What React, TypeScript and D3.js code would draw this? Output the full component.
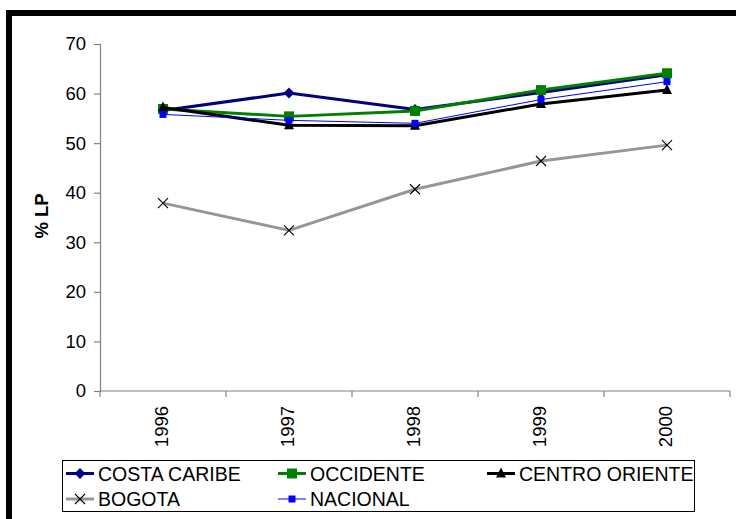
import React, { useEffect, useRef } from 'react';
import * as d3 from 'd3';

const years = ['1996', '1997', '1998', '1999', '2000'];
const costaCaribe = [56.6, 60.1, 56.8, 60.2, 63.8];
const occidente = [56.9, 55.4, 56.5, 60.7, 64.1];
const centroOriente = [57.2, 53.6, 53.5, 57.9, 60.7];
const bogota = [37.9, 32.4, 40.7, 46.4, 49.6];
const nacional = [55.8, 54.6, 54.0, 58.8, 62.4];
const yTicks = [0, 10, 20, 30, 40, 50, 60, 70];

type Series = {
  name: string;
  values: number[];
  color: string;
  width: number;
  marker: 'diamond' | 'square' | 'triangle' | 'cross' | 'smallSquare';
};

const series: Series[] = [
  { name: 'COSTA CARIBE', values: costaCaribe, color: '#000080', width: 3, marker: 'diamond' },
  { name: 'OCCIDENTE', values: occidente, color: '#008000', width: 3, marker: 'square' },
  { name: 'CENTRO ORIENTE', values: centroOriente, color: '#000000', width: 3, marker: 'triangle' },
  { name: 'BOGOTA', values: bogota, color: '#969696', width: 3, marker: 'cross' },
  { name: 'NACIONAL', values: nacional, color: '#0000FF', width: 1, marker: 'smallSquare' },
];

const FONT = 'Arial, "Liberation Sans", sans-serif';

function drawMarker(g: d3.Selection<SVGGElement, unknown, null, undefined>, s: Series, x: number, y: number) {
  if (s.marker === 'diamond') {
    g.append('path')
      .attr('d', `M${x},${y - 5.5}L${x + 5.5},${y}L${x},${y + 5.5}L${x - 5.5},${y}Z`)
      .attr('fill', s.color);
  } else if (s.marker === 'square') {
    g.append('rect').attr('x', x - 5).attr('y', y - 5).attr('width', 10).attr('height', 10).attr('fill', s.color);
  } else if (s.marker === 'triangle') {
    g.append('path')
      .attr('d', `M${x},${y - 6}L${x + 5},${y + 4}L${x - 5},${y + 4}Z`)
      .attr('fill', s.color);
  } else if (s.marker === 'cross') {
    g.append('path')
      .attr('d', `M${x - 5},${y - 5}L${x + 5},${y + 5}M${x - 5},${y + 5}L${x + 5},${y - 5}`)
      .attr('stroke', '#000')
      .attr('stroke-width', 1.1)
      .attr('fill', 'none');
  } else {
    g.append('rect').attr('x', x - 3.5).attr('y', y - 3.5).attr('width', 7).attr('height', 7).attr('fill', s.color);
  }
}

const App: React.FC = () => {
  const svgRef = useRef<SVGSVGElement>(null);
  const width = 736;
  const height = 519;

  useEffect(() => {
    if (!svgRef.current) return;
    const svg = d3.select(svgRef.current);
    svg.selectAll('*').remove();

    svg.append('rect').attr('width', width).attr('height', height).attr('fill', '#fff');

    // outer frame (only top and left visible)
    svg.append('rect')
      .attr('x', 9)
      .attr('y', 13)
      .attr('width', width + 20)
      .attr('height', height + 20)
      .attr('fill', 'none')
      .attr('stroke', '#000')
      .attr('stroke-width', 6);

    const x = d3.scaleBand().domain(years).range([100, 730]);
    const y = d3.scaleLinear().domain([0, 70]).range([391, 44]);

    const axisColor = '#808080';

    // y axis
    const yAxis = svg.append('g').attr('transform', 'translate(100,0)').call(d3.axisLeft(y).tickValues(yTicks).tickSize(6).tickPadding(8));
    yAxis.select('.domain').attr('stroke', axisColor).attr('stroke-width', 1.2);
    yAxis.selectAll('.tick line').attr('stroke', axisColor).attr('stroke-width', 1.2);
    yAxis.selectAll('.tick text')
      .attr('font-family', FONT)
      .attr('font-size', 18.5)
      .attr('fill', '#000');

    // x axis
    const xAxisG = svg.append('g').attr('transform', 'translate(0,391)');
    xAxisG.append('line').attr('x1', 100).attr('x2', 730).attr('stroke', axisColor).attr('stroke-width', 1.2);
    const boundaries = years.map(yr => x(yr) as number).concat([730]);
    xAxisG.selectAll('line.tk')
      .data(boundaries)
      .enter()
      .append('line')
      .attr('class', 'tk')
      .attr('x1', d => d)
      .attr('x2', d => d)
      .attr('y1', 0)
      .attr('y2', 6)
      .attr('stroke', axisColor)
      .attr('stroke-width', 1.2);

    svg.append('g')
      .selectAll('text')
      .data(years)
      .enter()
      .append('text')
      .attr('transform', d => `translate(${(x(d) as number) + x.bandwidth() / 2 - 1},406) rotate(-90)`)
      .attr('text-anchor', 'end')
      .attr('dy', '0.35em')
      .attr('font-family', FONT)
      .attr('font-size', 18.5)
      .text(d => d);

    // y axis title
    svg.append('text')
      .attr('transform', 'translate(42,216) rotate(-90)')
      .attr('text-anchor', 'middle')
      .attr('dy', '0.35em')
      .attr('font-family', FONT)
      .attr('font-size', 18.5)
      .attr('font-weight', 'bold')
      .text('% LP');

    const cx = (i: number) => (x(years[i]) as number) + x.bandwidth() / 2;
    const line = d3.line<number>().x((_, i) => cx(i)).y(d => y(d));

    series.forEach(s => {
      const g = svg.append('g');
      g.append('path')
        .attr('d', line(s.values))
        .attr('fill', 'none')
        .attr('stroke', s.color)
        .attr('stroke-width', s.width)
        .attr('stroke-linejoin', 'round');
      s.values.forEach((v, i) => drawMarker(g, s, cx(i), y(v)));
    });

    // legend
    const leg = svg.append('g');
    leg.append('rect')
      .attr('x', 62.5)
      .attr('y', 460.5)
      .attr('width', 632)
      .attr('height', 51)
      .attr('fill', '#fff')
      .attr('stroke', '#000')
      .attr('stroke-width', 1);

    const legPos = [
      { x: 66, y: 473.5 },
      { x: 278, y: 473.5 },
      { x: 487, y: 473.5 },
      { x: 66, y: 499 },
      { x: 278, y: 499 },
    ];

    series.forEach((s, i) => {
      const p = legPos[i];
      const g = leg.append('g');
      g.append('line')
        .attr('x1', p.x)
        .attr('x2', p.x + 28)
        .attr('y1', p.y)
        .attr('y2', p.y)
        .attr('stroke', s.color)
        .attr('stroke-width', s.width);
      drawMarker(g, s, p.x + 14, p.y);
      g.append('text')
        .attr('x', p.x + 32)
        .attr('y', p.y)
        .attr('dy', '0.36em')
        .attr('font-family', FONT)
        .attr('font-size', 19.5)
        .text(s.name);
    });
  }, []);

  return (
    <svg
      ref={svgRef}
      width={width}
      height={height}
      style={{ position: 'absolute', left: 0, top: 0, display: 'block' }}
    />
  );
};

export default App;
